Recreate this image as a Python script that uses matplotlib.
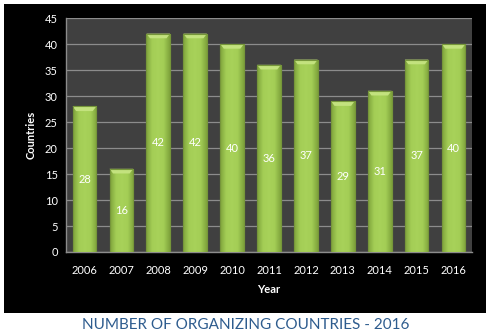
import matplotlib
matplotlib.use("Agg")
import matplotlib.pyplot as plt
import numpy as np
from matplotlib.patches import Rectangle
from matplotlib.colors import LinearSegmentedColormap

years = ["2006", "2007", "2008", "2009", "2010", "2011", "2012", "2013", "2014", "2015", "2016"]
countries = [28, 16, 42, 42, 40, 36, 37, 29, 31, 37, 40]
yticks = [0, 5, 10, 15, 20, 25, 30, 35, 40, 45]

plt.rcParams['font.family'] = ['Lato', 'DejaVu Sans']

fig = plt.figure(figsize=(4.91, 3.36), dpi=100)
fig.patch.set_facecolor('white')
fig.patches.append(Rectangle((0.0081, 0.0685), 0.9817, 0.9196, transform=fig.transFigure,
                             facecolor='black', edgecolor='none', zorder=-10))

ax = fig.add_axes([0.1344, 0.25, 0.8269, 0.6964])
ax.set_facecolor('#404040')
x = np.arange(len(years))
bars = ax.bar(x, countries, width=0.64, color='#9BC44C', edgecolor='#76963A', linewidth=0.8, zorder=3)

cmap = LinearSegmentedColormap.from_list('g', ['#7FA33C', '#A3CD55', '#A8D25A', '#A3CD55', '#7FA33C'])
grad = np.linspace(0, 1, 64).reshape(1, -1)
for b in bars:
    x0, w, h = b.get_x(), b.get_width(), b.get_height()
    im = ax.imshow(grad, extent=[x0, x0 + w, 0, h], aspect='auto', cmap=cmap, zorder=3.5)
    im.set_clip_path(b)
    ax.fill([x0, x0 + w, x0 + w * 0.85, x0 + w * 0.15], [h, h, h - 0.9, h - 0.9],
            color='#C3E27E', zorder=4, lw=0)
    ax.add_patch(Rectangle((x0, 0), w, h, fill=False, edgecolor='#76963A', lw=0.8, zorder=4.5))

for xi, v in zip(x, countries):
    ax.text(xi, v / 2, str(v), ha='center', va='center', color='white', fontsize=8, zorder=5)

ax.set_xlim(-0.5, len(years) - 0.5)
ax.set_ylim(0, 45)
ax.set_yticks(yticks)
ax.set_xticks(x)
ax.set_xticklabels(years)
ax.yaxis.grid(True, color='#8C8C8C', lw=0.9, zorder=0)
ax.set_axisbelow(True)
ax.tick_params(colors='white', labelsize=8, length=0, pad=6)
ax.tick_params(axis='x', pad=9)
for s in ['top', 'right']:
    ax.spines[s].set_visible(False)
for s in ['left', 'bottom']:
    ax.spines[s].set_color('#8C8C8C')
    ax.spines[s].set_linewidth(1.0)

ax.set_xlabel('Year', color='white', fontsize=8, fontweight='bold', labelpad=6)
ax.set_ylabel('Countries', color='white', fontsize=8, fontweight='bold', labelpad=6)

fig.text(0.5, 0.033, 'NUMBER OF ORGANIZING COUNTRIES - 2016', ha='center', va='center',
         color='#2E5C8E', fontsize=11)

fig.savefig('out.png', dpi=100, facecolor=fig.get_facecolor())
